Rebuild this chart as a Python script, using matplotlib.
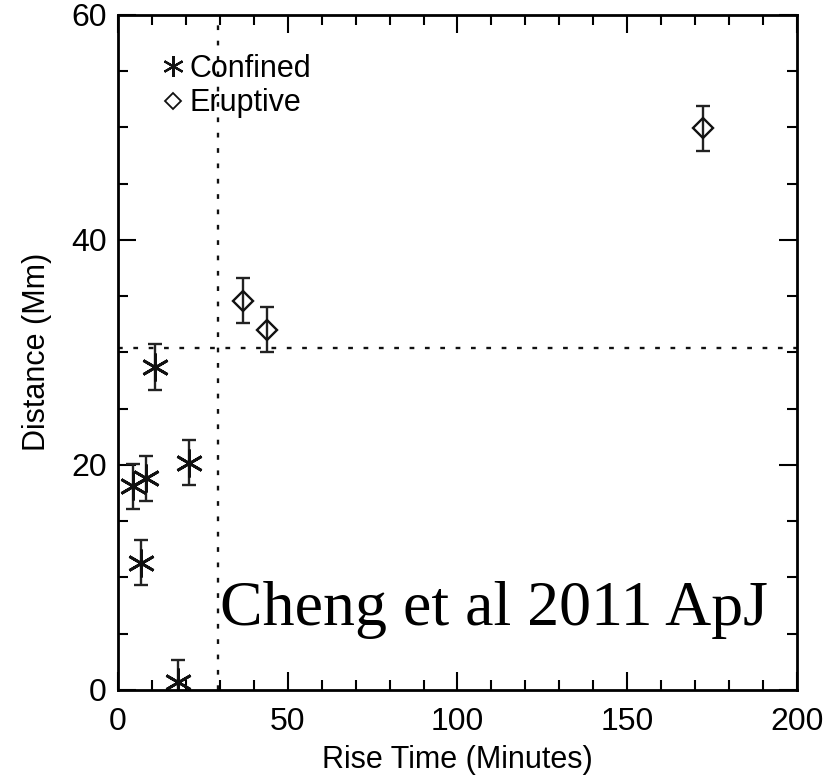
import numpy as np
import matplotlib.pyplot as plt
from matplotlib.lines import Line2D
from matplotlib.ticker import MultipleLocator

plt.rcParams['font.family'] = ['Liberation Sans', 'DejaVu Sans']

# Confined events (asterisks)
conf_time = [4.5, 8.3, 6.7, 10.9, 21.0, 17.7]
conf_dist = [18.1, 18.8, 11.3, 28.7, 20.2, 0.7]
conf_err = [2.0, 2.0, 2.0, 2.0, 2.0, 2.0]

# Eruptive events (diamonds)
erup_time = [36.8, 43.9, 172.3]
erup_dist = [34.6, 32.0, 49.9]
erup_err = [2.0, 2.0, 2.0]

# threshold lines
t_thresh = 29.5
d_thresh = 30.4

fig = plt.figure(figsize=(8.34, 7.77), dpi=100)
ax = fig.add_axes([0.1415, 0.112, 0.8141, 0.869])

star = (6, 2, 0)
ax.errorbar(conf_time, conf_dist, yerr=conf_err, fmt='none', ecolor='#222222',
            elinewidth=1.7, capsize=5, capthick=1.7)
ax.plot(conf_time, conf_dist, ls='none', marker=star, ms=20, mec='#111111', mew=2.0)
ax.errorbar(erup_time, erup_dist, yerr=erup_err, fmt='none', ecolor='#222222',
            elinewidth=1.7, capsize=5, capthick=1.7)
ax.plot(erup_time, erup_dist, ls='none', marker='D', ms=10, mfc='none', mec='#111111', mew=1.7)

ax.axvline(t_thresh, color='#111111', lw=1.7, ls=(0, (2, 4.5)))
ax.axhline(d_thresh, color='#111111', lw=1.7, ls=(0, (2, 4.5)))

ax.set_xlim(0, 200)
ax.set_ylim(0, 60)
ax.xaxis.set_major_locator(MultipleLocator(50))
ax.xaxis.set_minor_locator(MultipleLocator(10))
ax.yaxis.set_major_locator(MultipleLocator(20))
ax.yaxis.set_minor_locator(MultipleLocator(5))
ax.tick_params(which='both', direction='in', top=True, right=True, width=1.5,
               labelsize=23)
ax.tick_params(axis='x', pad=12)
ax.tick_params(axis='y', pad=8)
ax.tick_params(which='major', length=13)
ax.tick_params(which='minor', length=7)
for sp in ax.spines.values():
    sp.set_linewidth(2)

ax.set_xlabel('Rise Time (Minutes)', fontsize=22, labelpad=6)
ax.set_ylabel('Distance (Mm)', fontsize=22, labelpad=14)

leg = [Line2D([0], [0], ls='none', marker=star, ms=15, mec='#111111', mew=1.6, label='Confined'),
       Line2D([0], [0], ls='none', marker='D', ms=8, mfc='none', mec='#111111', mew=1.3, label='Eruptive')]
ax.legend(handles=leg, loc='upper left', bbox_to_anchor=(0.04, 0.965), frameon=False,
          fontsize=22, handlelength=0.8, handletextpad=0.15, labelspacing=0.15, borderpad=0)

ax.text(0.150, 0.096, 'Cheng et al 2011 ApJ', transform=ax.transAxes,
        family=['Liberation Serif', 'DejaVu Serif'], fontsize=46, va='baseline')

plt.savefig('out.png', dpi=100)
plt.close()
